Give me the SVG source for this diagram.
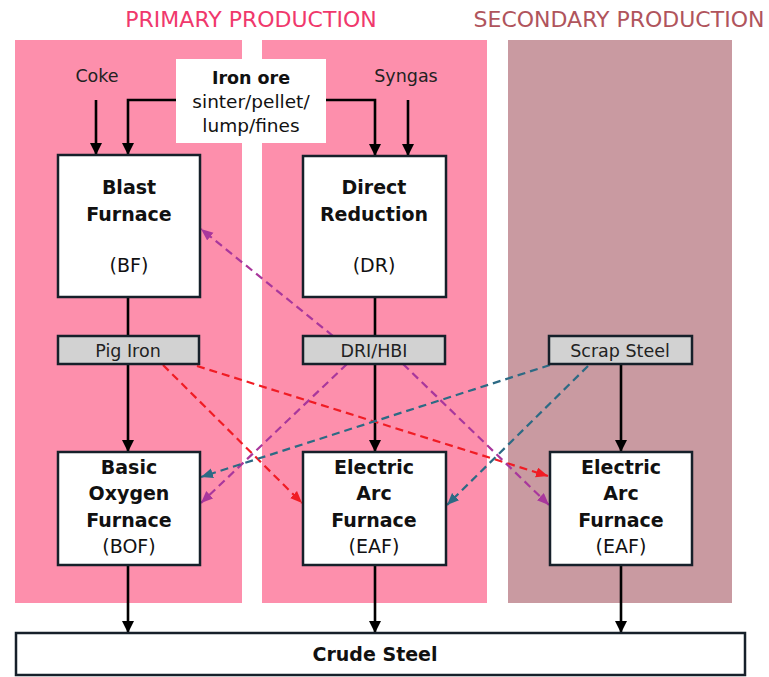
<svg xmlns="http://www.w3.org/2000/svg" width="769" height="677" viewBox="0 0 769 677">
<style>
text{font-family:"DejaVu Sans","Liberation Sans",Arial,sans-serif;text-anchor:middle}
.hdr{font-size:22px}
.box{fill:#fff;stroke:#16202a;stroke-width:2.5}
.mid{fill:#d2d2d2;stroke:#16202a;stroke-width:2.5}
.bt{font-size:19px;font-weight:bold;fill:#111}
.ab{font-size:19px;fill:#111}
.lbl{font-size:17.5px;fill:#222}
.ore{font-size:18.5px;fill:#111}
.solid{stroke:#000;stroke-width:2.6;fill:none}
.dash{stroke-width:2.2;fill:none;stroke-dasharray:8 5}
.red{stroke:#f01c24}
.pur{stroke:#a8379c}
.teal{stroke:#2c6a84}
</style>
<defs>
<marker id="ab" markerUnits="userSpaceOnUse" markerWidth="14" markerHeight="14" refX="12" refY="6" orient="auto"><path d="M0,0 L12,6 L0,12 Z" fill="#000"/></marker>
<marker id="ar" markerUnits="userSpaceOnUse" markerWidth="14" markerHeight="14" refX="12" refY="5" orient="auto"><path d="M0,0 L12,5 L0,10 Z" fill="#f01c24"/></marker>
<marker id="ap" markerUnits="userSpaceOnUse" markerWidth="14" markerHeight="14" refX="12" refY="5" orient="auto"><path d="M0,0 L12,5 L0,10 Z" fill="#a8379c"/></marker>
<marker id="at" markerUnits="userSpaceOnUse" markerWidth="14" markerHeight="14" refX="12" refY="5" orient="auto"><path d="M0,0 L12,5 L0,10 Z" fill="#2c6a84"/></marker>
</defs>
<rect width="769" height="677" fill="#fff"/>
<g id="panels">
<rect x="15" y="40" width="227" height="563" fill="#fd8fac"/>
<rect x="262" y="40" width="225" height="563" fill="#fd8fac"/>
<rect x="508" y="40" width="224" height="563" fill="#c99aa1"/>
<text class="hdr" x="251" y="27" fill="#f0386c">PRIMARY PRODUCTION</text>
<text class="hdr" x="619" y="27" fill="#b0545c">SECONDARY PRODUCTION</text>
</g>
<g id="connectors">
<path class="solid" d="M96,100 V155" marker-end="url(#ab)"/>
<path class="solid" d="M176,100 H128 V155" marker-end="url(#ab)"/>
<path class="solid" d="M326,100 H375 V156" marker-end="url(#ab)"/>
<path class="solid" d="M408,100 V156" marker-end="url(#ab)"/>
<path class="solid" d="M128,297 V336"/>
<path class="solid" d="M375,297 V336"/>
<path class="solid" d="M128,364 V452" marker-end="url(#ab)"/>
<path class="solid" d="M375,364 V452" marker-end="url(#ab)"/>
<path class="solid" d="M621,364 V452" marker-end="url(#ab)"/>
<path class="solid" d="M128,565 V633" marker-end="url(#ab)"/>
<path class="solid" d="M375,565 V633" marker-end="url(#ab)"/>
<path class="solid" d="M621,565 V633" marker-end="url(#ab)"/>
<path class="dash red" d="M163,365 L302,503" marker-end="url(#ar)"/>
<path class="dash red" d="M197,366 L548,476" marker-end="url(#ar)"/>
<path class="dash pur" d="M333,336 L201,229" marker-end="url(#ap)"/>
<path class="dash pur" d="M347,364 L201,503" marker-end="url(#ap)"/>
<path class="dash pur" d="M403,364 L549,505" marker-end="url(#ap)"/>
<path class="dash teal" d="M550,365 L201,477" marker-end="url(#at)"/>
<path class="dash teal" d="M588,366 L447,505" marker-end="url(#at)"/>
</g>
<g id="iron-ore">
<rect x="176" y="59" width="150" height="84" fill="#fff"/>
<text class="ore" x="251" y="84" style="font-weight:bold;font-size:17.5px">Iron ore</text>
<text class="ore" x="251" y="108">sinter/pellet/</text>
<text class="ore" x="251" y="132">lump/fines</text>
</g>
<g id="coke"><text class="lbl" x="97" y="82">Coke</text></g>
<g id="syngas"><text class="lbl" x="406" y="82">Syngas</text></g>
<g id="bf">
<rect class="box" x="58" y="155" width="142" height="142"/>
<text class="bt" x="129" y="194">Blast</text>
<text class="bt" x="129" y="221">Furnace</text>
<text class="ab" x="129" y="272">(BF)</text>
</g>
<g id="dr">
<rect class="box" x="303" y="156" width="143" height="141"/>
<text class="bt" x="374" y="194">Direct</text>
<text class="bt" x="374" y="221">Reduction</text>
<text class="ab" x="374" y="272">(DR)</text>
</g>
<g id="pig-iron">
<rect class="mid" x="58" y="336" width="141" height="28"/>
<text class="lbl" x="128" y="357">Pig Iron</text>
</g>
<g id="dri-hbi">
<rect class="mid" x="303" y="336" width="142" height="28"/>
<text class="lbl" x="374" y="357">DRI/HBI</text>
</g>
<g id="scrap">
<rect class="mid" x="549" y="336" width="143" height="28"/>
<text class="lbl" x="620" y="357">Scrap Steel</text>
</g>
<g id="bof">
<rect class="box" x="58" y="452" width="142" height="113"/>
<text class="bt" x="129" y="474">Basic</text>
<text class="bt" x="129" y="500">Oxygen</text>
<text class="bt" x="129" y="527">Furnace</text>
<text class="ab" x="129" y="553">(BOF)</text>
</g>
<g id="eaf1">
<rect class="box" x="303" y="452" width="143" height="113"/>
<text class="bt" x="374" y="474">Electric</text>
<text class="bt" x="374" y="500">Arc</text>
<text class="bt" x="374" y="527">Furnace</text>
<text class="ab" x="374" y="553">(EAF)</text>
</g>
<g id="eaf2">
<rect class="box" x="550" y="452" width="142" height="113"/>
<text class="bt" x="621" y="474">Electric</text>
<text class="bt" x="621" y="500">Arc</text>
<text class="bt" x="621" y="527">Furnace</text>
<text class="ab" x="621" y="553">(EAF)</text>
</g>
<g id="crude-steel">
<rect class="box" x="16" y="633" width="729" height="42"/>
<text class="bt" x="375" y="661">Crude Steel</text>
</g>
</svg>
